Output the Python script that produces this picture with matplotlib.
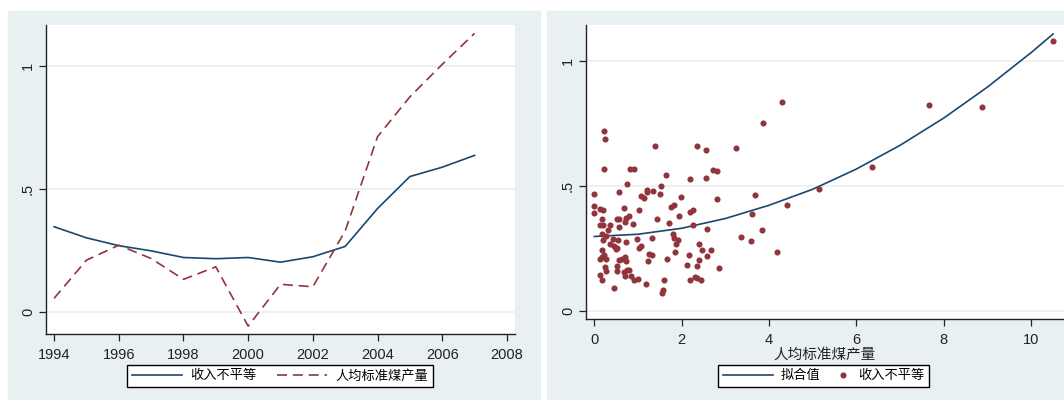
import matplotlib
matplotlib.use("Agg")
import matplotlib.pyplot as plt
from matplotlib.patches import Rectangle
from matplotlib.legend_handler import HandlerLine2D

plt.rcParams["font.family"] = ["Liberation Sans", "Noto Sans CJK SC", "DejaVu Sans"]

BG = "#e9f0f2"
NAVY = "#1a476f"
MAROON = "#90353b"

# left panel: time series
years = list(range(1994, 2008))
ineq = [0.347, 0.302, 0.270, 0.249, 0.222, 0.217, 0.222, 0.203, 0.225, 0.267,
        0.421, 0.551, 0.589, 0.637]
coal = [0.056, 0.211, 0.272, 0.218, 0.133, 0.184, -0.057, 0.113, 0.103, 0.330,
        0.713, 0.875, 1.007, 1.133]

# right panel: scatter (人均标准煤产量, 收入不平等)
sc_x = [10.50, 8.88, 7.66, 6.36, 5.14, 4.40, 4.18, 4.29, 3.86, 3.68, 3.61, 3.84,
        3.58, 3.35, 3.25, 2.86, 2.80, 2.80, 2.71, 2.55, 2.36, 2.55, 2.58, 2.66,
        2.57, 2.47, 2.40, 2.26, 2.25, 2.20, 2.20, 2.40, 2.36, 2.16, 2.13, 2.20,
        2.30, 2.36, 2.44, 1.99, 1.93, 1.91, 1.88, 1.84, 1.82, 1.79, 1.82, 1.76,
        1.72, 1.66, 1.64, 1.53, 1.50, 1.44, 1.59, 1.58, 1.55, 1.39, 1.35, 1.33,
        1.33, 1.26, 1.23, 1.21, 1.20, 1.19, 1.14, 1.08, 1.07, 1.02, 1.02, 0.98,
        0.99, 0.90, 0.82, 0.75, 0.88, 0.80, 0.72, 0.71, 0.67, 0.57, 0.56, 0.51,
        0.56, 0.54, 0.53, 0.50, 0.46, 0.43, 0.37, 0.37, 0.32, 0.26, 0.21, 0.18,
        0.19, 0.14, 0.17, 0.19, 0.13, 0.00, 0.00, 0.00, 0.23, 0.24, 0.22, 0.18,
        0.17, 0.13, 0.22, 0.26, 0.24, 0.26, 0.14, 0.17, 0.46, 0.53, 0.52, 0.57,
        0.63, 0.70, 0.72, 0.69, 0.71, 0.75, 0.80, 0.85, 0.90, 0.72]
sc_y = [1.081, 0.816, 0.826, 0.578, 0.489, 0.425, 0.235, 0.837, 0.753, 0.466,
        0.388, 0.323, 0.280, 0.295, 0.653, 0.171, 0.447, 0.558, 0.563, 0.645,
        0.661, 0.530, 0.327, 0.243, 0.219, 0.246, 0.268, 0.344, 0.406, 0.397,
        0.526, 0.203, 0.182, 0.226, 0.184, 0.125, 0.136, 0.134, 0.125, 0.457,
        0.382, 0.283, 0.267, 0.236, 0.294, 0.310, 0.425, 0.417, 0.354, 0.210,
        0.545, 0.501, 0.470, 0.367, 0.123, 0.085, 0.072, 0.660, 0.481, 0.292,
        0.226, 0.227, 0.202, 0.483, 0.477, 0.109, 0.451, 0.459, 0.259, 0.251,
        0.405, 0.287, 0.128, 0.569, 0.569, 0.509, 0.347, 0.381, 0.371, 0.356,
        0.414, 0.478, 0.367, 0.367, 0.336, 0.283, 0.252, 0.250, 0.259, 0.288,
        0.270, 0.343, 0.323, 0.302, 0.286, 0.310, 0.343, 0.343, 0.370, 0.403,
        0.407, 0.470, 0.422, 0.393, 0.720, 0.686, 0.567, 0.243, 0.216, 0.208,
        0.223, 0.208, 0.176, 0.160, 0.146, 0.124, 0.093, 0.179, 0.159, 0.206,
        0.207, 0.216, 0.199, 0.156, 0.139, 0.163, 0.166, 0.142, 0.123, 0.276]

# quadratic fitted values
fit_x = [0, 1, 2, 3, 4, 5, 6, 7, 8, 9, 10, 10.5]
fit_y = [0.298, 0.307, 0.331, 0.370, 0.423, 0.487, 0.568, 0.663, 0.772, 0.896,
         1.034, 1.108]

W, H = 1064, 400
fig = plt.figure(figsize=(W / 100, H / 100), dpi=100, facecolor="white")

# graph region backgrounds
fig.patches.append(Rectangle((8 / W, 0), (540 - 8) / W, (H - 11) / H,
                             transform=fig.transFigure, color=BG, zorder=-10))
fig.patches.append(Rectangle((547 / W, 0), (W - 547) / W, (H - 11) / H,
                             transform=fig.transFigure, color=BG, zorder=-10))


class DotHandler(HandlerLine2D):
    # put the legend dot near the right end of its box, next to the text
    def create_artists(self, legend, orig_handle, xdescent, ydescent, width,
                       height, fontsize, trans):
        return super().create_artists(legend, orig_handle,
                                      xdescent - 0.5 * width + 5, ydescent,
                                      width, height, fontsize, trans)


def style_axes(ax):
    for s in ["top", "right"]:
        ax.spines[s].set_visible(False)
    for s in ["left", "bottom"]:
        ax.spines[s].set_color("#222222")
        ax.spines[s].set_linewidth(1.0)
    ax.set_yticks([0, 0.5, 1])
    ax.set_yticklabels(["0", ".5", "1"], rotation=90, va="center")
    ax.tick_params(axis="both", direction="out", length=5, width=0.9,
                   colors="#222222", labelsize=10.5)
    ax.tick_params(axis="y", pad=3)
    ax.tick_params(axis="x", pad=5)
    ax.grid(axis="y", color=BG, linewidth=1.2)
    ax.set_axisbelow(True)


def frame(leg):
    leg.get_frame().set_edgecolor("black")
    leg.get_frame().set_linewidth(1.0)


# left panel
ax1 = fig.add_axes([46 / W, (H - 334) / H, (515 - 46) / W, (334 - 25) / H])
ax1.plot(years, ineq, color=NAVY, lw=1.2, label="收入不平等")
ax1.plot(years, coal, color=MAROON, lw=1.2, dashes=(6, 3.5), label="人均标准煤产量")
ax1.set_xlim(1993.75, 2008.25)
ax1.set_ylim(-0.089, 1.167)
ax1.set_xticks(range(1994, 2009, 2))
style_axes(ax1)
leg1 = ax1.legend(loc="center", bbox_to_anchor=(280 / W, (H - 376) / H),
                  bbox_transform=fig.transFigure, ncol=2, fontsize=9.5,
                  handlelength=3.8, columnspacing=1.6, handletextpad=0.6,
                  fancybox=False, framealpha=1, borderpad=0.35)
frame(leg1)

# right panel
ax2 = fig.add_axes([586 / W, (H - 319) / H, (W - 586) / W, (319 - 25) / H])
ax2.plot(fit_x, fit_y, color=NAVY, lw=1.2, label="拟合值")
dots, = ax2.plot(sc_x, sc_y, "o", color=MAROON, ms=4.4, mec="none",
                 label="收入不平等")
ax2.set_xlim(-0.19, 10.75)
ax2.set_ylim(-0.032, 1.144)
ax2.set_xticks(range(0, 11, 2))
style_axes(ax2)
ax2.set_xlabel("人均标准煤产量", fontsize=10.5, labelpad=0.5, color="#222222")
leg2 = ax2.legend(loc="center", bbox_to_anchor=(823.5 / W, (H - 376) / H),
                  bbox_transform=fig.transFigure, ncol=2, fontsize=9.5,
                  handlelength=3.8, columnspacing=-1.6, handletextpad=0.6,
                  fancybox=False, framealpha=1, borderpad=0.35,
                  handler_map={dots: DotHandler(numpoints=1)})
frame(leg2)

fig.savefig("out.png", dpi=100, facecolor="white")
